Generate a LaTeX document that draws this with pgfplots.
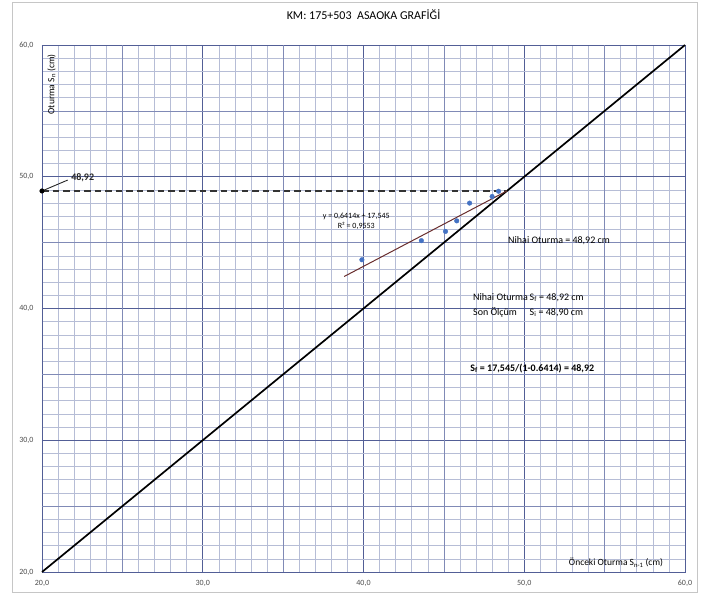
\documentclass[border=0pt]{standalone}
\usepackage{fontspec}
\setmainfont{Carlito}
\usepackage{pgfplots}
\pgfplotsset{compat=1.18}

\definecolor{gridmajor}{RGB}{82,94,150}
\definecolor{gridmid}{RGB}{128,138,182}
\definecolor{gridminor}{RGB}{182,189,214}
\definecolor{ptblue}{RGB}{68,114,196}
\definecolor{trend}{RGB}{105,45,45}

\begin{document}
\begin{tikzpicture}
\path[use as bounding box] (-42pt,-31pt) rectangle (659pt,572pt);
\draw[gray!45, line width=0.6pt] (-30pt,-20pt) rectangle (655pt,570pt);
\begin{axis}[
  at={(0,0)}, anchor=south west,
  scale only axis, width=643pt, height=527pt,
  xmin=20, xmax=60, ymin=20, ymax=60,
  xtick={20,30,40,50,60}, ytick={20,30,40,50,60},
  minor x tick num=9, minor y tick num=9,
  grid=both,
  major grid style={gridmajor, line width=0.9pt},
  minor grid style={gridminor, line width=0.6pt},
  extra x ticks={25,35,45,55}, extra y ticks={25,35,45,55},
  extra x tick labels={}, extra y tick labels={},
  extra tick style={grid=major, major grid style={gridmid, line width=0.7pt}},
  major tick length=0pt, minor tick length=0pt,
  axis line style={gridmajor, line width=0.9pt},
  /pgf/number format/fixed,
  /pgf/number format/fixed zerofill,
  /pgf/number format/precision=1,
  /pgf/number format/use comma,
  /pgf/number format/assume math mode=true,
  tick label style={font=\fontsize{8}{9}\selectfont, text=black!70},
  xticklabel style={yshift=-5pt},
  yticklabel style={xshift=-5pt},
  clip=false,
]
% 1:1 reference line
\addplot[black, line width=1.7pt] coordinates {(20,20) (60,60)};
% final settlement level
\addplot[black!80, line width=1.6pt, dash pattern=on 6.5pt off 4pt]
  coordinates {(20,48.92) (48.92,48.92)};
% linear trend y = 0.6414x + 17.545
\addplot[trend, line width=1pt] coordinates {(38.8,42.431) (48.92,48.922)};
% measured settlements S_n vs S_{n-1}
\addplot[only marks, mark=*, mark size=2.3pt, ptblue] coordinates {
  (39.9,43.7) (43.6,45.15) (45.1,45.85) (45.8,46.65)
  (46.6,48.0) (48.0,48.5) (48.4,48.9)
};
% marker on the S_n axis
\addplot[only marks, mark=*, mark size=2.3pt, black] coordinates {(20,48.92)};
\addplot[black!85, line width=0.9pt] coordinates {(20,48.92) (21.6,49.75)};
\node[anchor=west, font=\fontsize{10}{11}\selectfont\bfseries, text=black!85]
  at (axis cs:21.6,49.9) {48,92};

% title and axis captions
\node[font=\fontsize{12}{14}\selectfont] at (axis cs:40,62.3)
  {KM: 175+503\ \ ASAOKA GRAFİĞİ};
\node[rotate=90, anchor=east, font=\fontsize{9.5}{11}\selectfont]
  at (axis cs:20.6,59.55) {Oturma S\textsubscript{n} (cm)};
\node[anchor=east, font=\fontsize{9.5}{11}\selectfont]
  at (axis cs:58.85,20.7) {Önceki Oturma S\textsubscript{n-1} (cm)};

% trend line equation
\node[align=center, font=\fontsize{8}{9.5}\selectfont, inner sep=0pt]
  at (axis cs:39.55,46.6) {y = 0,6414x + 17,545\\R² = 0,9553};

% result annotations
\node[anchor=west, font=\fontsize{10}{11}\selectfont, inner sep=0pt]
  at (axis cs:48.99,45.12) {Nihai Oturma = 48,92 cm};
\node[anchor=north west, font=\fontsize{10}{15}\selectfont, inner sep=0pt]
  at (axis cs:46.81,41.45) {%
  \begin{tabular}{@{}l@{\,}l@{}}
  Nihai Oturma & S\textsubscript{f} = 48,92 cm\\
  Son Ölçüm & S\textsubscript{i} = 48,90 cm
  \end{tabular}};
\node[anchor=west, font=\fontsize{10}{11}\selectfont\bfseries, inner sep=0pt]
  at (axis cs:46.63,35.48) {S\textsubscript{f} = 17,545/(1-0.6414) = 48,92};
\end{axis}
\end{tikzpicture}
\end{document}
